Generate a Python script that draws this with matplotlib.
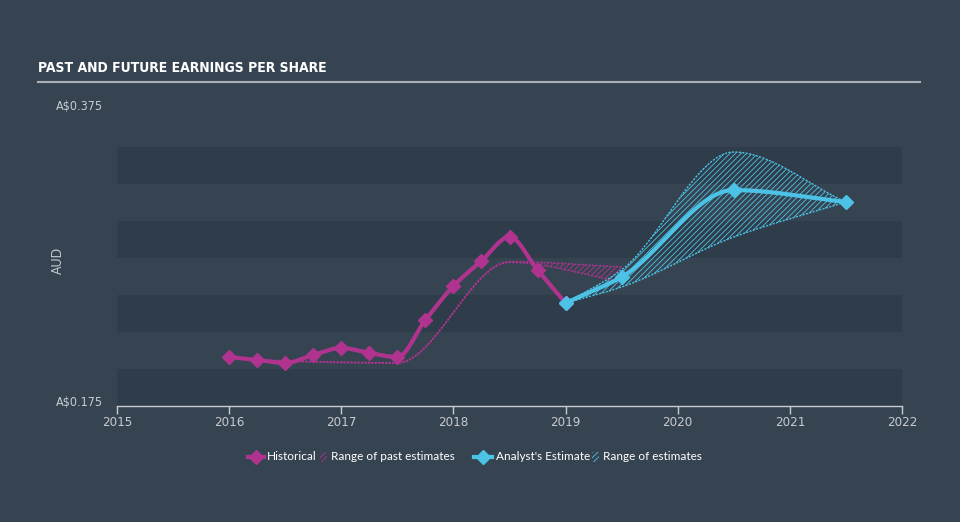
import numpy as np
import matplotlib
matplotlib.use("Agg")
import matplotlib.pyplot as plt
from matplotlib.lines import Line2D
from matplotlib.patches import Rectangle

# Historical EPS (quarterly)
hist_x = [2016.0, 2016.25, 2016.5, 2016.75, 2017.0, 2017.25, 2017.5,
          2017.75, 2018.0, 2018.25, 2018.5, 2018.75, 2019.0]
hist_y = [0.2081, 0.2061, 0.2041, 0.2095, 0.2142, 0.2108, 0.2081,
          0.2331, 0.2561, 0.2730, 0.2892, 0.2669, 0.2446]

# Range of past estimates
past_x = [2016.0, 2016.5, 2017.5, 2018.5, 2019.5]
past_hi = [0.2078, 0.2056, 0.2043, 0.2726, 0.2689]
past_lo = [0.2075, 0.2052, 0.2039, 0.2720, 0.2588]

# Analyst estimates
est_x = [2019.0, 2019.5, 2020.5, 2021.5]
est_y = [0.2446, 0.2622, 0.3209, 0.3128]
est_hi = [0.2446, 0.2670, 0.3466, 0.3128]
est_lo = [0.2446, 0.2554, 0.2892, 0.3128]

years = [2015, 2016, 2017, 2018, 2019, 2020, 2021, 2022]

BG = "#364452"
BAND = "#2f3c4a"
MAGENTA = "#b0348f"
CYAN = "#4cc3e6"
GREY = "#c8ccd0"


def monotone(x, y, n=200):
    # monotone cubic (Fritsch-Carlson) for smooth rendering
    x = np.asarray(x, float)
    y = np.asarray(y, float)
    h = np.diff(x)
    d = np.diff(y) / h
    m = np.zeros_like(y)
    m[0], m[-1] = d[0], d[-1]
    for i in range(1, len(y) - 1):
        if d[i - 1] * d[i] <= 0:
            m[i] = 0
        else:
            w1 = 2 * h[i] + h[i - 1]
            w2 = h[i] + 2 * h[i - 1]
            m[i] = (w1 + w2) / (w1 / d[i - 1] + w2 / d[i])
    xs = np.linspace(x[0], x[-1], n)
    k = np.clip(np.searchsorted(x, xs) - 1, 0, len(x) - 2)
    t = (xs - x[k]) / h[k]
    h00 = 2 * t**3 - 3 * t**2 + 1
    h10 = t**3 - 2 * t**2 + t
    h01 = -2 * t**3 + 3 * t**2
    h11 = t**3 - t**2
    ys = h00 * y[k] + h10 * h[k] * m[k] + h01 * y[k + 1] + h11 * h[k] * m[k + 1]
    return xs, ys


plt.rcParams['hatch.linewidth'] = 0.6

fig = plt.figure(figsize=(9.6, 5.22), dpi=100)
fig.patch.set_facecolor(BG)
ax = fig.add_axes([117 / 960, 116 / 522, 785 / 960, 296 / 522])
ax.set_facecolor(BG)
ax.set_xlim(2015, 2022)
ax.set_ylim(0.175, 0.375)

# banded background
for lo in [0.175, 0.225, 0.275, 0.325]:
    ax.axhspan(lo, lo + 0.025, color=BAND, lw=0, zorder=0)

# past estimates range
px, phi = monotone(past_x, past_hi)
_, plo = monotone(past_x, past_lo)
ax.fill_between(px, plo, phi, facecolor="none", edgecolor=MAGENTA,
                hatch="//////", lw=0, zorder=1)
ax.plot(px, phi, color=MAGENTA, lw=1, ls=(0, (1.5, 1)), zorder=2)
ax.plot(px, plo, color=MAGENTA, lw=1, ls=(0, (1.5, 1)), zorder=2)

# estimate range
ex, ehi = monotone(est_x, est_hi)
_, elo = monotone(est_x, est_lo)
ax.fill_between(ex, elo, ehi, facecolor="none", edgecolor=CYAN,
                hatch="//////", lw=0, zorder=1)
ax.plot(ex, ehi, color=CYAN, lw=1, ls=(0, (1.5, 1)), zorder=2)
ax.plot(ex, elo, color=CYAN, lw=1, ls=(0, (1.5, 1)), zorder=2)

# historical line
hx, hy = monotone(hist_x, hist_y, 400)
ax.plot(hx, hy, color=MAGENTA, lw=3, zorder=3, solid_capstyle="round")
ax.plot(hist_x, hist_y, ls="none", marker="D", ms=7, color=MAGENTA, zorder=4)

# estimate line
sx, sy = monotone(est_x, est_y, 300)
ax.plot(sx, sy, color=CYAN, lw=3, zorder=5, solid_capstyle="round")
ax.plot(est_x, est_y, ls="none", marker="D", ms=7, color=CYAN, zorder=6)

# axes styling
for s in ["top", "right", "left"]:
    ax.spines[s].set_visible(False)
ax.spines["bottom"].set_color(GREY)
ax.spines["bottom"].set_linewidth(1)
ax.set_xticks(years)
ax.set_xticklabels([str(y) for y in years], fontsize=9.5,
                   family="DejaVu Sans", fontstretch="condensed")
ax.tick_params(axis="x", colors=GREY, length=6, width=1, pad=1)
ax.set_yticks([])

fig.text(103 / 960, 1 - 107 / 522, "A$0.375", ha="right", va="center",
         color=GREY, fontsize=9, family="DejaVu Sans", fontstretch="condensed")
fig.text(103 / 960, 1 - 403 / 522, "A$0.175", ha="right", va="center",
         color=GREY, fontsize=9, family="DejaVu Sans", fontstretch="condensed")
fig.text(58 / 960, 1 - 260 / 522, "AUD", rotation=90, ha="center",
         va="center", color=GREY, fontsize=9, family="Lato")

# title + rule
fig.text(38 / 960, 1 - 68 / 522, "PAST AND FUTURE EARNINGS PER SHARE",
         ha="left", va="center", color="white", fontsize=10,
         fontweight="bold", family="DejaVu Sans", fontstretch="condensed")
fig.add_artist(Line2D([38 / 960, 920 / 960], [1 - 82 / 522, 1 - 82 / 522],
                      color="#aab0b6", lw=1.5))

# legend
ly = 1 - 457 / 522
LFS = 8.5


def fx(p):
    return p / 960


fig.add_artist(Line2D([fx(248), fx(264)], [ly, ly], color=MAGENTA, lw=3))
fig.add_artist(Line2D([fx(256)], [ly], marker="D", ms=7, color=MAGENTA))
fig.text(fx(267), ly, "Historical", color="white", fontsize=LFS,
         family="Lato", va="center")
fig.add_artist(Rectangle((fx(320), ly - 5 / 522), 7 / 960, 10 / 522,
                         transform=fig.transFigure, facecolor="none",
                         edgecolor=MAGENTA, hatch="//////", lw=0))
fig.text(fx(331), ly, "Range of past estimates", color="white",
         fontsize=LFS, family="Lato", va="center")

fig.add_artist(Line2D([fx(474), fx(492)], [ly, ly], color=CYAN, lw=3))
fig.add_artist(Line2D([fx(483)], [ly], marker="D", ms=7, color=CYAN))
fig.text(fx(496), ly, "Analyst's Estimate", color="white", fontsize=LFS,
         family="Lato", va="center")
fig.add_artist(Rectangle((fx(592), ly - 5 / 522), 7 / 960, 10 / 522,
                         transform=fig.transFigure, facecolor="none",
                         edgecolor=CYAN, hatch="//////", lw=0))
fig.text(fx(603), ly, "Range of estimates", color="white", fontsize=LFS,
         family="Lato", va="center")

fig.savefig("out.png", dpi=100, facecolor=BG)
